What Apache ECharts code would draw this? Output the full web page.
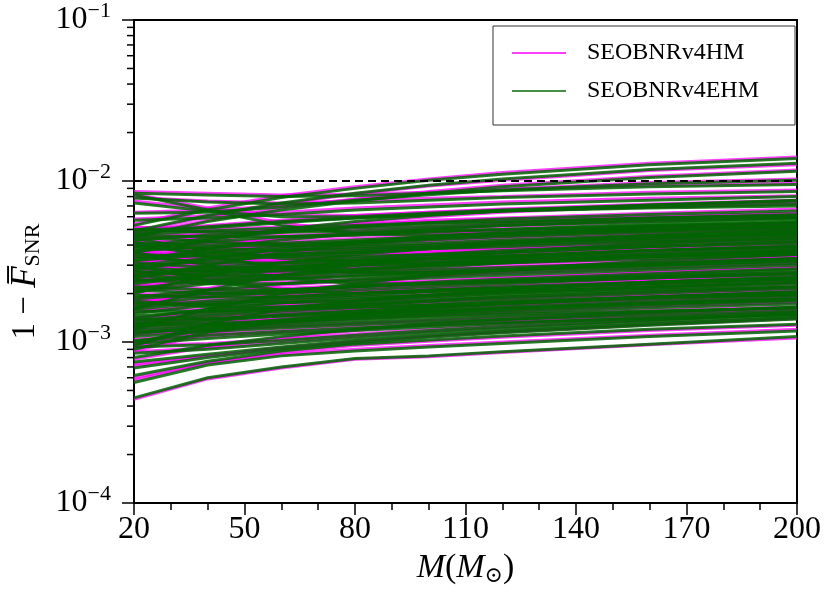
<!DOCTYPE html>
<html>
<head>
<meta charset="utf-8">
<script src="https://cdn.jsdelivr.net/npm/echarts@6/dist/echarts.min.js"></script>
<style>
  html, body { margin: 0; padding: 0; background: #fff; }
  #chart { width: 830px; height: 593px; }
</style>
</head>
<body>
<div id="chart"></div>
<script>
// masses (M_sun) where each curve was sampled
var massGrid = [20, 40, 60, 80, 100, 120, 160, 200];

// 1 - F_SNR, in units of 1e-3, SEOBNRv4HM (magenta)
var hmLines = [
  [5.4, 6.8, 8.1, 9.2, 10.3, 11.3, 12.9, 14.1],
  [4.8, 6.0, 7.2, 8.3, 9.3, 10.1, 11.6, 12.6],
  [4.6, 5.7, 6.8, 7.7, 8.6, 9.4, 10.7, 11.7],
  [6.4, 6.6, 7.0, 7.7, 8.4, 8.9, 9.8, 10.3],
  [8.6, 8.4, 8.2, 8.3, 8.5, 8.9, 9.4, 9.7],
  [7.9, 7.5, 7.3, 7.5, 7.8, 8.0, 8.5, 8.8],
  [7.5, 6.7, 6.2, 6.1, 6.4, 6.7, 7.2, 7.6],
  [8.3, 6.8, 5.5, 4.8, 4.7, 4.8, 5.1, 5.4],
  [5.8, 6.1, 6.4, 6.8, 7.1, 7.4, 7.8, 8.1],
  [5.1, 5.2, 5.6, 6.0, 6.3, 6.6, 6.9, 7.2],
  [3.5, 4.2, 4.9, 5.5, 6.0, 6.4, 7.0, 7.4],
  [4.0, 4.5, 5.0, 5.3, 5.7, 5.9, 6.3, 6.7],
  [3.3, 3.9, 4.4, 4.8, 5.1, 5.4, 5.8, 6.1],
  [5.2, 4.9, 4.9, 5.0, 5.2, 5.4, 5.8, 6.0],
  [2.7, 3.2, 3.7, 4.1, 4.4, 4.7, 5.1, 5.4],
  [4.9, 5.3, 5.7, 6.1, 6.4, 6.6, 7.0, 7.4],
  [4.7, 4.6, 4.6, 4.7, 4.9, 5.2, 5.6, 6.0],
  [4.4, 4.7, 5.0, 5.2, 5.5, 5.7, 6.0, 6.3],
  [4.1, 3.9, 3.8, 3.9, 4.0, 4.2, 4.5, 4.8],
  [3.7, 4.1, 4.4, 4.6, 4.8, 4.9, 5.2, 5.4],
  [3.6, 3.5, 3.6, 3.7, 3.9, 4.0, 4.3, 4.5],
  [3.4, 3.7, 4.0, 4.2, 4.4, 4.6, 4.9, 5.2],
  [3.2, 3.0, 3.0, 3.1, 3.2, 3.4, 3.6, 3.8],
  [2.8, 3.1, 3.3, 3.5, 3.7, 3.9, 4.2, 4.5],
  [2.85, 2.7, 2.7, 2.8, 2.9, 3.0, 3.2, 3.4],
  [2.65, 3.0, 3.2, 3.4, 3.6, 3.75, 4.0, 4.2],
  [2.5, 2.35, 2.35, 2.45, 2.55, 2.7, 2.9, 3.1],
  [2.25, 2.55, 2.75, 2.9, 3.0, 3.1, 3.3, 3.5],
  [2.25, 2.15, 2.15, 2.25, 2.35, 2.5, 2.7, 2.9],
  [2.1, 2.35, 2.55, 2.7, 2.8, 2.9, 3.1, 3.3],
  [2.0, 1.95, 1.95, 2.05, 2.15, 2.25, 2.4, 2.55],
  [1.8, 1.95, 2.05, 2.15, 2.25, 2.35, 2.5, 2.65],
  [1.8, 1.75, 1.8, 1.85, 1.95, 2.05, 2.2, 2.35],
  [1.7, 1.85, 1.95, 2.05, 2.15, 2.2, 2.35, 2.5],
  [1.6, 1.6, 1.64, 1.7, 1.75, 1.85, 1.95, 2.1],
  [1.42, 1.52, 1.62, 1.72, 1.82, 1.9, 2.05, 2.15],
  [1.41, 1.43, 1.48, 1.53, 1.59, 1.66, 1.79, 1.9],
  [1.33, 1.41, 1.51, 1.6, 1.68, 1.76, 1.9, 2.02],
  [1.25, 1.31, 1.37, 1.43, 1.49, 1.56, 1.67, 1.76],
  [1.13, 1.18, 1.24, 1.3, 1.36, 1.42, 1.52, 1.6],
  [1.1, 1.19, 1.25, 1.31, 1.36, 1.41, 1.5, 1.6],
  [1.04, 1.12, 1.18, 1.25, 1.3, 1.35, 1.43, 1.52],
  [4.3, 3.5, 3.0, 2.8, 2.8, 2.9, 3.1, 3.3],
  [1.18, 1.58, 1.97, 2.28, 2.55, 2.75, 3.15, 3.45],
  [3.1, 2.5, 2.15, 2.05, 2.1, 2.2, 2.35, 2.5],
  [1.65, 2.15, 2.65, 3.05, 3.4, 3.7, 4.2, 4.6],
  [2.45, 2.95, 3.55, 4.0, 4.3, 4.6, 5.1, 5.5],
  [4.5, 3.8, 3.4, 3.3, 3.4, 3.5, 3.8, 4.0],
  [0.92, 1.27, 1.57, 1.77, 1.92, 2.05, 2.3, 2.5],
  [3.7, 3.1, 2.6, 2.35, 2.35, 2.4, 2.55, 2.7],
  [2.05, 2.65, 3.2, 3.6, 3.9, 4.2, 4.7, 5.1],
  [0.88, 1.12, 1.32, 1.47, 1.59, 1.7, 1.87, 2.02],
  [0.44, 0.59, 0.69, 0.78, 0.81, 0.86, 0.96, 1.06],
  [0.58, 0.74, 0.84, 0.9, 0.95, 1.0, 1.1, 1.2],
  [0.6, 0.74, 0.86, 0.95, 1.01, 1.07, 1.18, 1.27],
  [0.71, 0.82, 0.92, 1.01, 1.09, 1.16, 1.29, 1.42],
  [0.73, 0.82, 0.91, 1.0, 1.08, 1.15, 1.28, 1.4],
  [0.87, 0.92, 1.0, 1.08, 1.16, 1.23, 1.36, 1.49],
  [0.95, 0.98, 1.04, 1.12, 1.2, 1.27, 1.4, 1.53],
  [0.78, 0.93, 1.06, 1.18, 1.28, 1.36, 1.5, 1.63],
  [4.2, 4.1, 4.2, 4.4, 4.6, 4.8, 5.1, 5.4],
  [3.6, 3.8, 3.95, 4.1, 4.3, 4.5, 4.8, 5.1],
  [3.5, 3.2, 3.2, 3.3, 3.5, 3.7, 4.0, 4.3],
  [3.1, 3.4, 3.6, 3.8, 4.0, 4.2, 4.6, 4.9],
  [2.65, 2.75, 2.85, 3.05, 3.25, 3.35, 3.65, 3.85],
  [2.45, 2.55, 2.65, 2.85, 3.0, 3.2, 3.4, 3.6],
  [2.2, 2.45, 2.65, 2.85, 3.05, 3.2, 3.5, 3.8],
  [1.85, 2.05, 2.25, 2.4, 2.55, 2.65, 2.85, 3.05],
  [1.75, 1.95, 2.1, 2.25, 2.4, 2.5, 2.7, 2.9],
  [1.53, 1.73, 1.88, 1.99, 2.1, 2.2, 2.4, 2.55],
  [1.32, 1.47, 1.57, 1.67, 1.77, 1.87, 2.02, 2.16],
  [1.28, 1.38, 1.48, 1.58, 1.69, 1.79, 1.94, 2.05],
  [1.15, 1.28, 1.41, 1.51, 1.6, 1.69, 1.82, 1.94],
  [0.97, 1.17, 1.3, 1.4, 1.47, 1.54, 1.67, 1.77],
  [1.0, 1.08, 1.15, 1.21, 1.27, 1.33, 1.45, 1.57],
  [4.6, 4.3, 4.1, 4.1, 4.2, 4.4, 4.7, 5.0],
  [4.0, 3.7, 3.5, 3.5, 3.6, 3.8, 4.1, 4.4],
  [2.65, 2.45, 2.5, 2.6, 2.7, 2.85, 3.1, 3.35],
  [2.15, 2.05, 2.05, 2.15, 2.25, 2.35, 2.55, 2.7],
  [1.85, 1.7, 1.7, 1.75, 1.82, 1.9, 2.05, 2.2],
  [3.1, 3.4, 3.6, 3.8, 3.9, 4.1, 4.4, 4.6],
  [2.4, 2.75, 3.0, 3.2, 3.4, 3.55, 3.8, 4.05],
  [1.64, 1.79, 1.84, 1.94, 2.0, 2.1, 2.25, 2.4],
  [1.37, 1.57, 1.72, 1.82, 1.92, 2.02, 2.16, 2.3],
  [4.8, 5.0, 5.2, 5.4, 5.6, 5.8, 6.0, 6.3],
  [1.31, 1.33, 1.39, 1.48, 1.56, 1.64, 1.76, 1.87],
  [2.95, 2.8, 2.8, 2.9, 3.05, 3.2, 3.5, 3.7],
  [2.6, 2.8, 2.95, 3.1, 3.25, 3.4, 3.65, 3.9],
  [1.2, 1.26, 1.32, 1.39, 1.45, 1.5, 1.58, 1.65],
  [1.27, 1.42, 1.52, 1.6, 1.67, 1.74, 1.85, 1.93]
];

// same, SEOBNRv4EHM (green)
var ehmLines = [
  [5.3, 6.6, 7.9, 9.0, 10.1, 11.0, 12.6, 13.8],
  [4.9, 6.1, 7.3, 8.4, 9.4, 10.3, 11.8, 12.9],
  [4.5, 5.6, 6.6, 7.5, 8.4, 9.2, 10.5, 11.5],
  [6.3, 6.4, 6.9, 7.6, 8.2, 8.8, 9.6, 10.1],
  [8.4, 8.2, 8.0, 8.1, 8.4, 8.7, 9.2, 9.5],
  [7.85, 7.4, 7.2, 7.3, 7.6, 7.9, 8.3, 8.6],
  [7.3, 6.5, 6.0, 6.0, 6.3, 6.6, 7.1, 7.5],
  [8.2, 6.6, 5.3, 4.7, 4.6, 4.7, 5.0, 5.3],
  [5.7, 5.9, 6.2, 6.6, 6.9, 7.2, 7.6, 8.0],
  [4.96, 5.1, 5.5, 5.9, 6.2, 6.5, 6.8, 7.0],
  [3.6, 4.3, 5.0, 5.6, 6.1, 6.5, 7.1, 7.6],
  [3.9, 4.4, 4.8, 5.2, 5.5, 5.8, 6.2, 6.5],
  [3.2, 3.8, 4.3, 4.7, 5.0, 5.3, 5.7, 6.0],
  [5.0, 4.8, 4.8, 4.9, 5.1, 5.3, 5.6, 5.9],
  [2.8, 3.3, 3.8, 4.2, 4.5, 4.8, 5.2, 5.5],
  [4.75, 5.2, 5.6, 5.9, 6.2, 6.5, 6.9, 7.2],
  [4.6, 4.5, 4.5, 4.6, 4.8, 5.0, 5.4, 5.8],
  [4.3, 4.6, 4.9, 5.1, 5.3, 5.5, 5.9, 6.2],
  [4.0, 3.8, 3.7, 3.8, 3.9, 4.1, 4.4, 4.7],
  [3.8, 4.2, 4.5, 4.7, 4.9, 5.0, 5.3, 5.5],
  [3.5, 3.4, 3.5, 3.6, 3.8, 3.9, 4.2, 4.4],
  [3.3, 3.6, 3.9, 4.1, 4.3, 4.5, 4.8, 5.1],
  [3.1, 2.9, 2.9, 3.0, 3.1, 3.3, 3.5, 3.7],
  [2.9, 3.2, 3.4, 3.6, 3.8, 4.0, 4.3, 4.6],
  [2.75, 2.6, 2.6, 2.7, 2.8, 2.9, 3.1, 3.3],
  [2.6, 2.9, 3.1, 3.3, 3.5, 3.6, 3.9, 4.1],
  [2.45, 2.3, 2.3, 2.4, 2.5, 2.6, 2.8, 3.0],
  [2.3, 2.6, 2.8, 3.0, 3.1, 3.2, 3.4, 3.6],
  [2.2, 2.1, 2.1, 2.2, 2.3, 2.4, 2.6, 2.8],
  [2.05, 2.3, 2.5, 2.6, 2.7, 2.8, 3.0, 3.2],
  [1.95, 1.9, 1.9, 2.0, 2.1, 2.2, 2.35, 2.5],
  [1.85, 2.0, 2.1, 2.2, 2.3, 2.4, 2.55, 2.7],
  [1.75, 1.7, 1.75, 1.8, 1.9, 2.0, 2.15, 2.3],
  [1.65, 1.8, 1.9, 2.0, 2.1, 2.15, 2.3, 2.45],
  [1.55, 1.55, 1.6, 1.65, 1.7, 1.8, 1.9, 2.05],
  [1.45, 1.55, 1.65, 1.75, 1.85, 1.95, 2.1, 2.2],
  [1.38, 1.4, 1.45, 1.5, 1.55, 1.62, 1.75, 1.85],
  [1.3, 1.38, 1.48, 1.56, 1.64, 1.72, 1.85, 1.98],
  [1.22, 1.28, 1.34, 1.4, 1.46, 1.52, 1.63, 1.72],
  [1.15, 1.2, 1.26, 1.32, 1.38, 1.44, 1.54, 1.63],
  [1.08, 1.16, 1.22, 1.28, 1.33, 1.38, 1.47, 1.56],
  [1.02, 1.1, 1.16, 1.22, 1.27, 1.32, 1.4, 1.48],
  [4.2, 3.4, 2.9, 2.7, 2.7, 2.8, 3.0, 3.2],
  [1.2, 1.6, 2.0, 2.3, 2.6, 2.8, 3.2, 3.5],
  [3.0, 2.4, 2.1, 2.0, 2.05, 2.15, 2.3, 2.45],
  [1.6, 2.1, 2.6, 3.0, 3.3, 3.6, 4.1, 4.5],
  [2.5, 3.0, 3.6, 4.1, 4.4, 4.7, 5.2, 5.6],
  [4.4, 3.7, 3.3, 3.2, 3.3, 3.4, 3.7, 3.9],
  [0.95, 1.3, 1.6, 1.8, 1.95, 2.1, 2.35, 2.55],
  [3.6, 3.0, 2.5, 2.3, 2.3, 2.35, 2.5, 2.65],
  [2.0, 2.6, 3.1, 3.5, 3.8, 4.1, 4.6, 5.0],
  [0.9, 1.15, 1.35, 1.5, 1.62, 1.72, 1.9, 2.05],
  [0.45, 0.6, 0.7, 0.79, 0.82, 0.87, 0.97, 1.08],
  [0.56, 0.72, 0.82, 0.88, 0.93, 0.98, 1.08, 1.17],
  [0.62, 0.76, 0.88, 0.97, 1.03, 1.09, 1.2, 1.29],
  [0.69, 0.8, 0.9, 0.99, 1.07, 1.14, 1.27, 1.39],
  [0.75, 0.84, 0.93, 1.02, 1.1, 1.17, 1.3, 1.42],
  [0.85, 0.9, 0.98, 1.06, 1.14, 1.21, 1.34, 1.46],
  [0.93, 0.96, 1.02, 1.1, 1.18, 1.25, 1.37, 1.5],
  [0.8, 0.95, 1.08, 1.2, 1.3, 1.38, 1.52, 1.65],
  [4.1, 4.0, 4.1, 4.3, 4.5, 4.7, 5.0, 5.3],
  [3.7, 3.9, 4.0, 4.2, 4.4, 4.6, 4.9, 5.2],
  [3.4, 3.1, 3.1, 3.2, 3.4, 3.6, 3.9, 4.2],
  [3.0, 3.3, 3.5, 3.7, 3.9, 4.1, 4.5, 4.8],
  [2.7, 2.8, 2.9, 3.1, 3.3, 3.4, 3.7, 3.9],
  [2.4, 2.5, 2.6, 2.8, 2.9, 3.1, 3.3, 3.5],
  [2.15, 2.4, 2.6, 2.8, 3.0, 3.1, 3.4, 3.7],
  [1.9, 2.1, 2.3, 2.45, 2.6, 2.7, 2.9, 3.1],
  [1.7, 1.9, 2.05, 2.2, 2.35, 2.45, 2.65, 2.85],
  [1.5, 1.7, 1.85, 1.95, 2.05, 2.15, 2.35, 2.5],
  [1.35, 1.5, 1.6, 1.7, 1.8, 1.9, 2.05, 2.2],
  [1.25, 1.35, 1.45, 1.55, 1.65, 1.75, 1.9, 2.0],
  [1.12, 1.25, 1.38, 1.48, 1.57, 1.65, 1.78, 1.9],
  [1.0, 1.2, 1.33, 1.43, 1.5, 1.57, 1.7, 1.8],
  [0.98, 1.05, 1.12, 1.18, 1.24, 1.3, 1.42, 1.53],
  [4.5, 4.2, 4.0, 4.0, 4.1, 4.3, 4.6, 4.9],
  [3.9, 3.6, 3.4, 3.4, 3.5, 3.7, 4.0, 4.3],
  [2.6, 2.4, 2.45, 2.55, 2.65, 2.8, 3.05, 3.3],
  [2.1, 2.0, 2.0, 2.1, 2.2, 2.3, 2.5, 2.65],
  [1.8, 1.65, 1.65, 1.7, 1.78, 1.86, 2.0, 2.15],
  [3.2, 3.5, 3.7, 3.9, 4.0, 4.2, 4.5, 4.7],
  [2.35, 2.7, 2.95, 3.15, 3.3, 3.45, 3.7, 3.95],
  [1.6, 1.75, 1.8, 1.9, 1.95, 2.05, 2.2, 2.35],
  [1.4, 1.6, 1.75, 1.85, 1.95, 2.05, 2.2, 2.35],
  [4.65, 4.9, 5.1, 5.3, 5.5, 5.6, 5.9, 6.1],
  [1.28, 1.3, 1.36, 1.45, 1.52, 1.6, 1.72, 1.83],
  [2.9, 2.75, 2.75, 2.85, 3.0, 3.15, 3.4, 3.6],
  [2.55, 2.75, 2.9, 3.05, 3.2, 3.3, 3.55, 3.8],
  [1.18, 1.24, 1.3, 1.37, 1.43, 1.48, 1.56, 1.62],
  [1.3, 1.45, 1.55, 1.63, 1.7, 1.76, 1.88, 1.96]
];

// dashed threshold 1e-2 (= 10 in 1e-3 units)
var threshold = 10;
var massRange = [20, 200];

// log axis: decade exponents and minor tick values (1e-3 units)
var yExponents = {'0.1': '\u22124', '1': '\u22123', '10': '\u22122', '100': '\u22121'};
var yMinorTicks = [0.2, 0.3, 0.4, 0.5, 0.6, 0.7, 0.8, 0.9,
                   2, 3, 4, 5, 6, 7, 8, 9,
                   20, 30, 40, 50, 60, 70, 80, 90];

var FONT = "'Liberation Serif', 'DejaVu Serif', serif";
var hmColor = 'rgba(255,0,255,0.75)';
var ehmColor = 'rgba(0,100,0,0.85)';

function toPairs(vals) {
  return vals.map(function (v, i) { return [massGrid[i], v]; });
}

var series = [];
hmLines.forEach(function (l) {
  series.push({
    name: 'SEOBNRv4HM', type: 'line', data: toPairs(l), symbol: 'none',
    color: hmColor, itemStyle: { color: hmColor },
    lineStyle: { color: hmColor, width: 3 }, silent: true
  });
});
ehmLines.forEach(function (l) {
  series.push({
    name: 'SEOBNRv4EHM', type: 'line', data: toPairs(l), symbol: 'none',
    color: ehmColor, itemStyle: { color: 'rgba(0,100,0,0.72)' },
    lineStyle: { color: ehmColor, width: 3 }, silent: true
  });
});
series.push({
  type: 'line', symbol: 'none', silent: true, z: 5,
  data: massRange.map(function (m) { return [m, threshold]; }),
  lineStyle: { color: '#000', width: 2, type: [8, 5] }
});
// minor log ticks on the y axis
series.push({
  type: 'custom', silent: true, clip: false, z: 6,
  data: yMinorTicks.map(function (v) { return [massRange[0], v]; }),
  renderItem: function (params, api) {
    var p = api.coord([api.value(0), api.value(1)]);
    return {
      type: 'line',
      shape: { x1: p[0] - 7, y1: p[1], x2: p[0], y2: p[1] },
      style: { stroke: '#000', lineWidth: 1.5 }
    };
  }
});

var chart = echarts.init(document.getElementById('chart'));
chart.setOption({
  animation: false,
  backgroundColor: '#fff',
  grid: {
    left: 134, right: 33, top: 20, bottom: 90,
    show: true, borderColor: '#000', borderWidth: 2, backgroundColor: 'transparent'
  },
  legend: {
    data: ['SEOBNRv4HM', 'SEOBNRv4EHM'],
    orient: 'vertical',
    left: 493, top: 26,
    icon: 'rect', itemWidth: 54, itemHeight: 2, itemGap: 14,
    padding: [15, 36, 22, 19],
    borderColor: '#333', borderWidth: 1,
    backgroundColor: '#fff',
    textStyle: { fontFamily: FONT, fontSize: 24, color: '#000', padding: [0, 0, 0, 16] }
  },
  xAxis: {
    type: 'value', min: 20, max: 200, interval: 30,
    name: '{i|M}({i|M}{s|\u2299})',
    nameLocation: 'middle', nameGap: 44,
    nameTextStyle: {
      fontFamily: FONT, fontSize: 34, color: '#000',
      rich: {
        i: { fontFamily: FONT, fontSize: 34, fontStyle: 'italic', color: '#000' },
        s: { fontFamily: FONT, fontSize: 22, color: '#000', padding: [16, 0, 0, 0] }
      }
    },
    axisLine: { onZero: false, lineStyle: { color: '#000', width: 2 } },
    axisTick: { show: true, inside: false, length: 12, lineStyle: { color: '#000', width: 1.5 } },
    minorTick: { show: true, splitNumber: 3, length: 7, lineStyle: { color: '#000', width: 1.5 } },
    splitLine: { show: false },
    axisLabel: { fontFamily: FONT, fontSize: 32, color: '#000', margin: 11 }
  },
  yAxis: {
    type: 'log', logBase: 10, min: 0.1, max: 100,
    name: '1 \u2212 {f|F\u0305}{s|SNR}',
    nameLocation: 'middle', nameRotate: 90, nameGap: 68,
    nameTextStyle: {
      fontFamily: FONT, fontSize: 33, color: '#000', padding: [0, 40, 0, 0],
      rich: {
        f: { fontFamily: FONT, fontSize: 35, fontStyle: 'italic', color: '#000' },
        s: { fontFamily: FONT, fontSize: 22, color: '#000', padding: [16, 0, 0, 0] }
      }
    },
    axisLine: { onZero: false, lineStyle: { color: '#000', width: 2 } },
    axisTick: { show: true, inside: false, length: 12, lineStyle: { color: '#000', width: 1.5 } },
    splitLine: { show: false },
    axisLabel: {
      margin: 23,
      formatter: function (v) {
        var key = String(Math.round(v * 1000) / 1000);
        return '{a|10}{b|' + (yExponents[key] || '') + '}';
      },
      rich: {
        a: { fontFamily: FONT, fontSize: 32, color: '#000' },
        b: { fontFamily: FONT, fontSize: 22, color: '#000', padding: [0, 0, 17, 0] }
      }
    }
  },
  series: series
});
</script>
</body>
</html>
